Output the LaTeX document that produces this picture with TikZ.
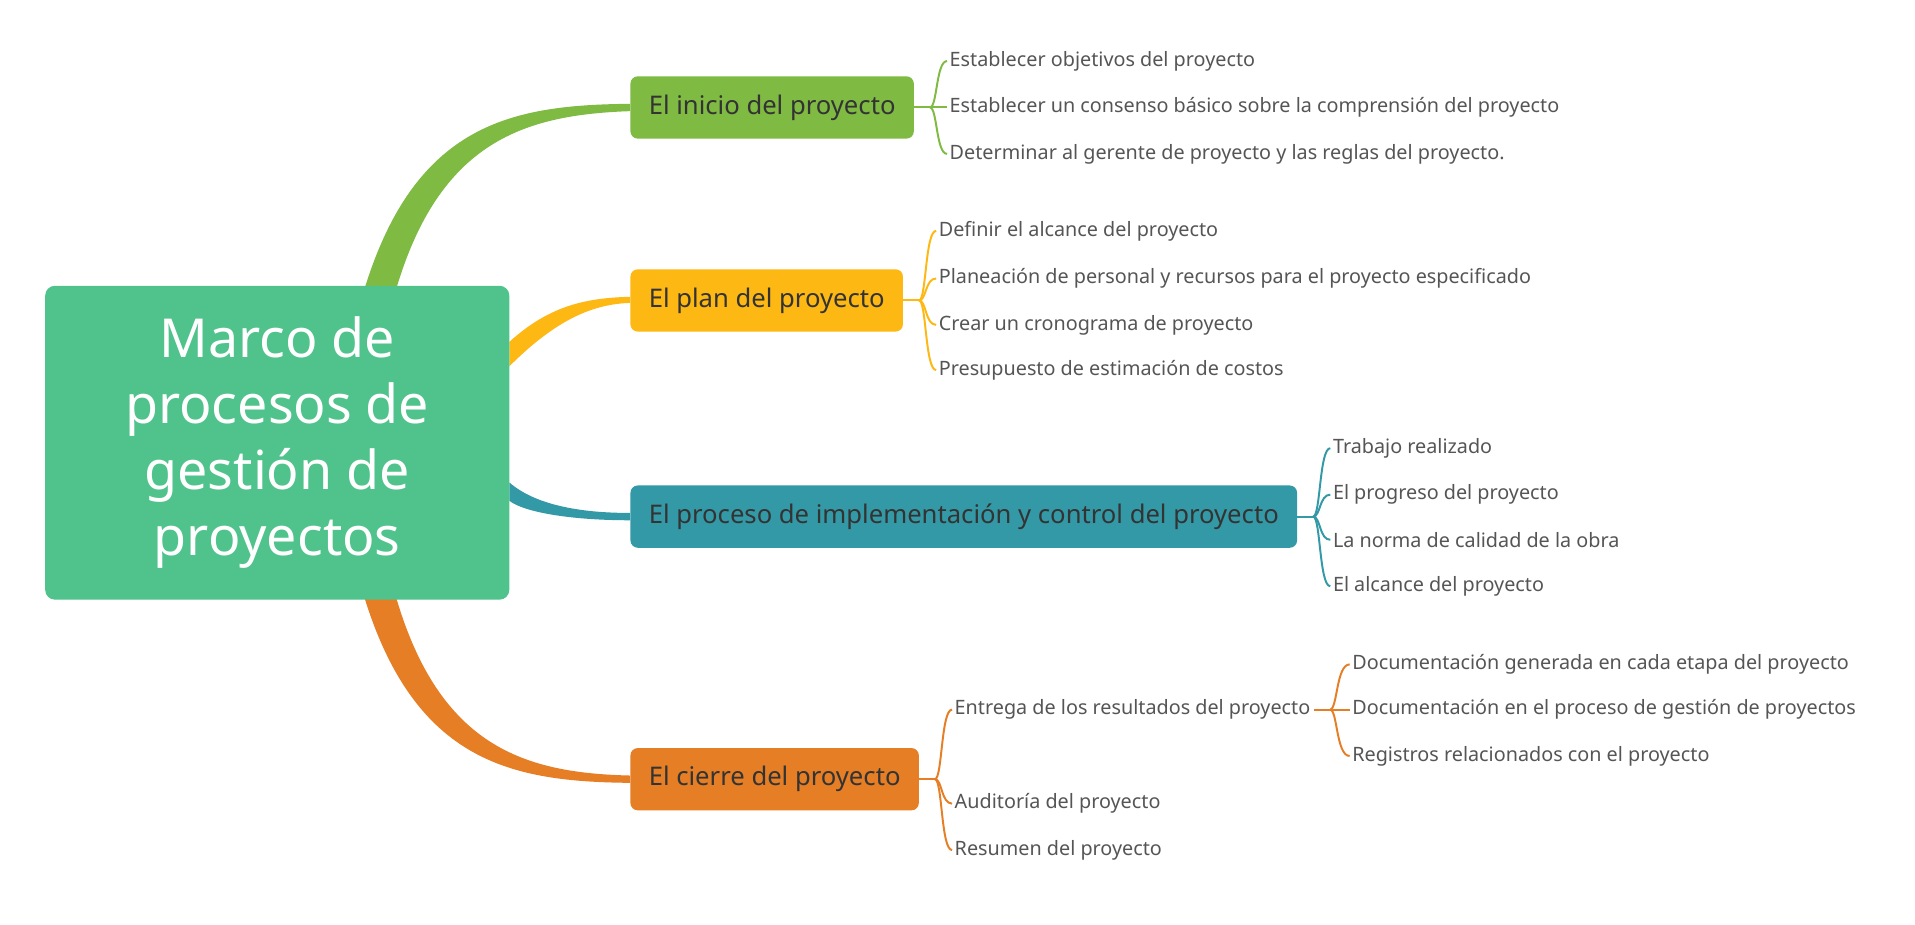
\documentclass[tikz,border=0pt]{standalone}
\usepackage{fontspec}
\setmainfont{Noto Sans}
\definecolor{cmain}{HTML}{4FC38B}
\definecolor{cgreen}{HTML}{7FBA42}
\definecolor{cyellow}{HTML}{FDB813}
\definecolor{cteal}{HTML}{3399A6}
\definecolor{corange}{HTML}{E57E25}
\definecolor{ctext}{HTML}{555555}
\definecolor{cbr}{HTML}{333333}
\begin{document}
\begin{tikzpicture}[x=1pt,y=-1pt,
  branch/.style={rounded corners=6pt,minimum height=51pt,inner xsep=15pt,anchor=west,text=cbr,font=\fontsize{21}{24}\selectfont},
  child/.style={anchor=west,inner xsep=3pt,text=ctext,font=\fontsize{16.2}{19}\selectfont},
  lk/.style={line width=1.6pt}]
\useasboundingbox (0,0) rectangle (1568,757);
\fill[white] (0,0) rectangle (1568,757);
% main connectors (tapered)
\fill[cgreen] (298,238) .. controls (340,100) and (420,86) .. (516,85) -- (516,91) .. controls (430,94) and (360,115) .. (324,238) -- cycle;
\fill[cyellow] (417,280) .. controls (450,250) and (480,244) .. (516,243) -- (516,248) .. controls (485,249) and (455,262) .. (417,300) -- cycle;
\fill[cteal] (417,395) .. controls (440,415) and (480,420) .. (516,420) -- (516,426) .. controls (470,426) and (430,420) .. (417,410) -- cycle;
\fill[corange] (298,488) .. controls (340,625) and (420,640) .. (516,641) -- (516,635) .. controls (430,633) and (360,612) .. (324,488) -- cycle;
% main node
\node[fill=cmain,rounded corners=8pt,minimum width=380pt,minimum height=257pt,text=white,align=center,font=\fontsize{44}{54}\selectfont] (m) at (227,362.5) {Marco de\\procesos de\\gestión de\\proyectos};
% branches
\node[branch,fill=cgreen] (b1) at (516,88) {El inicio del proyecto};
\node[branch,fill=cyellow] (b2) at (516,246) {El plan del proyecto};
\node[branch,fill=cteal] (b3) at (516,423) {El proceso de implementación y control del proyecto};
\node[branch,fill=corange] (b4) at (516,638) {El cierre del proyecto};
% children
\node[child] (c11) at ([xshift=26pt]b1.east |- 0,50) {Establecer objetivos del proyecto};
\node[child] (c12) at ([xshift=26pt]b1.east |- 0,88) {Establecer un consenso básico sobre la comprensión del proyecto};
\node[child] (c13) at ([xshift=26pt]b1.east |- 0,126) {Determinar al gerente de proyecto y las reglas del proyecto.};
\node[child] (c21) at ([xshift=26pt]b2.east |- 0,189) {Definir el alcance del proyecto};
\node[child] (c22) at ([xshift=26pt]b2.east |- 0,228) {Planeación de personal y recursos para el proyecto especificado};
\node[child] (c23) at ([xshift=26pt]b2.east |- 0,266) {Crear un cronograma de proyecto};
\node[child] (c24) at ([xshift=26pt]b2.east |- 0,303) {Presupuesto de estimación de costos};
\node[child] (c31) at ([xshift=26pt]b3.east |- 0,367) {Trabajo realizado};
\node[child] (c32) at ([xshift=26pt]b3.east |- 0,405) {El progreso del proyecto};
\node[child] (c33) at ([xshift=26pt]b3.east |- 0,442) {La norma de calidad de la obra};
\node[child] (c34) at ([xshift=26pt]b3.east |- 0,480) {El alcance del proyecto};
\node[child] (c41) at ([xshift=26pt]b4.east |- 0,581) {Entrega de los resultados del proyecto};
\node[child] (c42) at ([xshift=26pt]b4.east |- 0,658) {Auditoría del proyecto};
\node[child] (c43) at ([xshift=26pt]b4.east |- 0,696) {Resumen del proyecto};
\node[child] (c51) at ([xshift=28pt]c41.east |- 0,544) {Documentación generada en cada etapa del proyecto};
\node[child] (c52) at ([xshift=28pt]c41.east |- 0,581) {Documentación en el proceso de gestión de proyectos};
\node[child] (c53) at ([xshift=28pt]c41.east |- 0,619) {Registros relacionados con el proyecto};
% child links
\foreach \b/\col/\cs in {b1/cgreen/{c11,c12,c13},b2/cyellow/{c21,c22,c23,c24},b3/cteal/{c31,c32,c33,c34},b4/corange/{c41,c42,c43},c41/corange/{c51,c52,c53}}{
  \coordinate (f) at ([xshift=13pt]\b.east);
  \draw[lk,\col] (\b.east) -- (f);
  \foreach \c in \cs {
    \draw[lk,\col] (f) .. controls ([xshift=6pt]f) and ([xshift=5pt]f |- \c.west) .. ([xshift=1pt]\c.west);
  }
}
\end{tikzpicture}
\end{document}
